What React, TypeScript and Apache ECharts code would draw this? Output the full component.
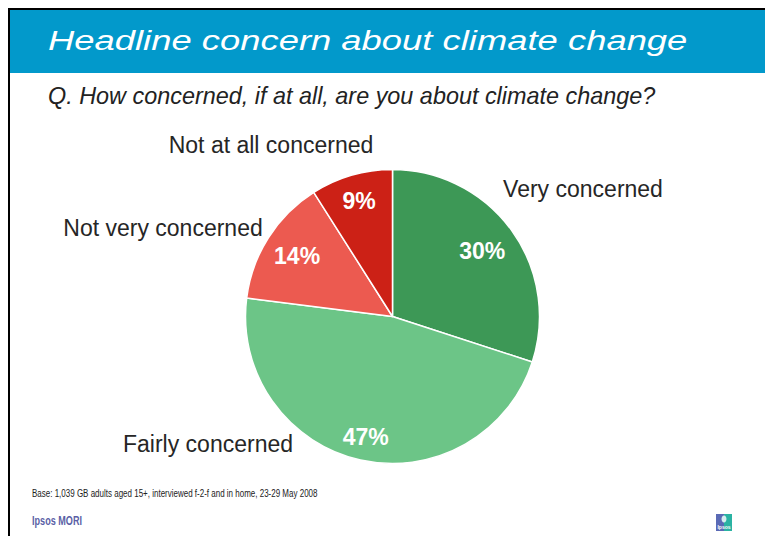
import React, { useEffect, useRef } from "react";
import * as echarts from "echarts";

const categories = ["Very concerned", "Fairly concerned", "Not very concerned", "Not at all concerned"];
const values = [30, 47, 14, 9];
const colors = ["#3d9856", "#6cc587", "#ec5a50", "#cc2116"];

const titleText = "Headline concern about climate change";
const subtitleText = "Q. How concerned, if at all, are you about climate change?";
const baseText = "Base: 1,039 GB adults aged 15+, interviewed f-2-f and in home, 23-29 May 2008";
const brandText = "Ipsos MORI";

// layout: anchor points for outside category names, radial distance of the percentage labels
const nameAnchors: [number, number][] = [
  [583, 189],
  [208, 444],
  [163, 228],
  [271, 145],
];
const pctRadius = [111, 123, 113, 120];

const CX = 392.5;
const CY = 316.5;
const FONT = "'Liberation Sans', Arial, Helvetica, sans-serif";

export default function App() {
  const ref = useRef<HTMLDivElement>(null);
  useEffect(() => {
    if (!ref.current) return;
    const chart = echarts.init(ref.current, undefined, { renderer: "svg" });
    const data = categories.map((c, i) => ({ name: c, value: values[i] }));
    const total = values.reduce((a, b) => a + b, 0);
    const midAngles: number[] = [];
    let acc = 0;
    values.forEach((v) => {
      midAngles.push(((acc + v / 2) / total) * Math.PI * 2);
      acc += v;
    });
    chart.setOption({
      animation: false,
      backgroundColor: "#ffffff",
      graphic: [
        { type: "rect", shape: { x: 10, y: 10, width: 755, height: 63 }, style: { fill: "#0299cb" }, silent: true },
        { type: "rect", shape: { x: 8, y: 8, width: 757, height: 2 }, style: { fill: "#000000" }, silent: true },
        { type: "rect", shape: { x: 8, y: 8, width: 2, height: 528 }, style: { fill: "#000000" }, silent: true },
        {
          type: "text", x: 48, y: 41, scaleX: 1.3, silent: true,
          style: { text: titleText, fill: "#ffffff", font: `italic 28px ${FONT}`, verticalAlign: "middle", align: "left" },
        },
        {
          type: "text", x: 48, y: 96, scaleX: 1.018, silent: true,
          style: { text: subtitleText, fill: "#222222", font: `italic 23px ${FONT}`, verticalAlign: "middle", align: "left" },
        },
        {
          type: "text", x: 32, y: 494, scaleX: 0.8, silent: true,
          style: { text: baseText, fill: "#222222", font: `10px ${FONT}`, verticalAlign: "middle", align: "left" },
        },
        {
          type: "text", x: 32, y: 520, scaleX: 0.7, silent: true,
          style: { text: brandText, fill: "#5b5fa6", font: `bold 13px ${FONT}`, verticalAlign: "middle", align: "left" },
        },
        { type: "rect", shape: { x: 716, y: 514, width: 8, height: 17 }, style: { fill: "#5a6ab5" }, silent: true },
        { type: "rect", shape: { x: 724, y: 514, width: 8, height: 17 }, style: { fill: "#2ab3a3" }, silent: true },
        { type: "ellipse", shape: { cx: 724, cy: 519, rx: 2.5, ry: 3.5 }, style: { fill: "#d6eef0" }, silent: true },
        {
          type: "text", x: 724, y: 527, silent: true,
          style: { text: "Ipsos", fill: "#ffffff", font: `bold 5px ${FONT}`, verticalAlign: "middle", align: "center" },
        },
      ],
      series: [
        {
          type: "pie",
          center: [CX, CY],
          radius: [0, 147],
          startAngle: 90,
          clockwise: true,
          silent: true,
          data,
          itemStyle: {
            color: (p: any) => colors[p.dataIndex],
            borderColor: "#ffffff",
            borderWidth: 1.5,
          },
          label: {
            show: true,
            position: "outside",
            formatter: "{b}",
            color: "#262626",
            fontFamily: FONT,
            fontSize: 23,
          },
          labelLine: { show: false },
          labelLayout: (p: any) => ({
            x: nameAnchors[p.dataIndex][0],
            y: nameAnchors[p.dataIndex][1],
            align: "center",
            verticalAlign: "middle",
          }),
        },
        {
          type: "pie",
          center: [CX, CY],
          radius: [0, 234],
          startAngle: 90,
          clockwise: true,
          silent: true,
          data,
          itemStyle: { color: "rgba(0,0,0,0)", borderWidth: 0 },
          label: {
            show: true,
            position: "inside",
            formatter: (p: any) => `${p.value}%`,
            color: "#ffffff",
            fontFamily: FONT,
            fontWeight: "bold",
            fontSize: 23,
          },
          labelLine: { show: false },
          labelLayout: (p: any) => {
            const a = midAngles[p.dataIndex];
            const r = pctRadius[p.dataIndex];
            return {
              x: CX + r * Math.sin(a),
              y: CY - r * Math.cos(a),
              align: "center",
              verticalAlign: "middle",
            };
          },
        },
      ],
    });
    return () => chart.dispose();
  }, []);
  return <div ref={ref} style={{ position: "fixed", left: 0, top: 0, width: 765, height: 536 }} />;
}
